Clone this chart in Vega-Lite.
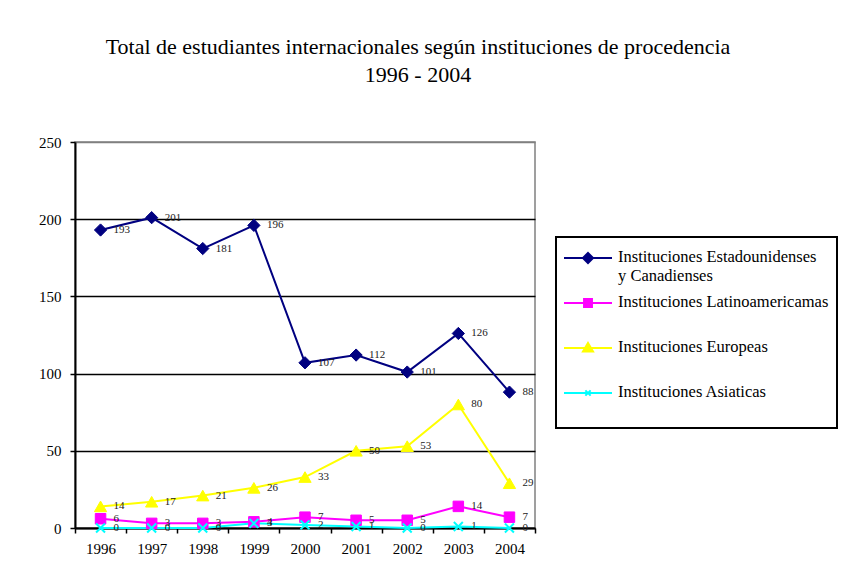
{
  "$schema": "https://vega.github.io/schema/vega-lite/v6.json",
  "width": 460,
  "height": 386,
  "autosize": {"type": "none"},
  "padding": {"left": 75, "top": 142, "right": 306, "bottom": 53},
  "background": "white",
  "config": {
    "view": {"stroke": "#808080", "strokeWidth": 1.5},
    "font": "Liberation Serif"
  },
  "title": {
    "text": ["Total de estudiantes internacionales según instituciones de procedencia", "1996 - 2004"],
    "font": "Liberation Serif",
    "fontSize": 22,
    "fontWeight": "normal",
    "color": "black",
    "lineHeight": 28,
    "anchor": "middle",
    "dx": 113,
    "offset": 48
  },
  "data": {
    "values": [
      {"year": "1996", "series": "Instituciones Estadounidenses y Canadienses", "value": 193},
      {"year": "1997", "series": "Instituciones Estadounidenses y Canadienses", "value": 201},
      {"year": "1998", "series": "Instituciones Estadounidenses y Canadienses", "value": 181},
      {"year": "1999", "series": "Instituciones Estadounidenses y Canadienses", "value": 196},
      {"year": "2000", "series": "Instituciones Estadounidenses y Canadienses", "value": 107},
      {"year": "2001", "series": "Instituciones Estadounidenses y Canadienses", "value": 112},
      {"year": "2002", "series": "Instituciones Estadounidenses y Canadienses", "value": 101},
      {"year": "2003", "series": "Instituciones Estadounidenses y Canadienses", "value": 126},
      {"year": "2004", "series": "Instituciones Estadounidenses y Canadienses", "value": 88},
      {"year": "1996", "series": "Instituciones Latinoamericamas", "value": 6},
      {"year": "1997", "series": "Instituciones Latinoamericamas", "value": 3},
      {"year": "1998", "series": "Instituciones Latinoamericamas", "value": 3},
      {"year": "1999", "series": "Instituciones Latinoamericamas", "value": 4},
      {"year": "2000", "series": "Instituciones Latinoamericamas", "value": 7},
      {"year": "2001", "series": "Instituciones Latinoamericamas", "value": 5},
      {"year": "2002", "series": "Instituciones Latinoamericamas", "value": 5},
      {"year": "2003", "series": "Instituciones Latinoamericamas", "value": 14},
      {"year": "2004", "series": "Instituciones Latinoamericamas", "value": 7},
      {"year": "1996", "series": "Instituciones Europeas", "value": 14},
      {"year": "1997", "series": "Instituciones Europeas", "value": 17},
      {"year": "1998", "series": "Instituciones Europeas", "value": 21},
      {"year": "1999", "series": "Instituciones Europeas", "value": 26},
      {"year": "2000", "series": "Instituciones Europeas", "value": 33},
      {"year": "2001", "series": "Instituciones Europeas", "value": 50},
      {"year": "2002", "series": "Instituciones Europeas", "value": 53},
      {"year": "2003", "series": "Instituciones Europeas", "value": 80},
      {"year": "2004", "series": "Instituciones Europeas", "value": 29},
      {"year": "1996", "series": "Instituciones Asiaticas", "value": 0},
      {"year": "1997", "series": "Instituciones Asiaticas", "value": 0},
      {"year": "1998", "series": "Instituciones Asiaticas", "value": 0},
      {"year": "1999", "series": "Instituciones Asiaticas", "value": 3},
      {"year": "2000", "series": "Instituciones Asiaticas", "value": 2},
      {"year": "2001", "series": "Instituciones Asiaticas", "value": 1},
      {"year": "2002", "series": "Instituciones Asiaticas", "value": 0},
      {"year": "2003", "series": "Instituciones Asiaticas", "value": 1},
      {"year": "2004", "series": "Instituciones Asiaticas", "value": 0}
    ]
  },
  "encoding": {
    "x": {
      "field": "year",
      "type": "ordinal",
      "scale": {"type": "band", "paddingInner": 0, "paddingOuter": 0},
      "axis": {
        "title": null,
        "labelAngle": 0,
        "tickBand": "extent",
        "grid": false,
        "domainColor": "black",
        "domainWidth": 2,
        "tickColor": "black",
        "tickWidth": 1.5,
        "tickSize": 5,
        "labelPadding": 8,
        "labelFont": "Liberation Serif",
        "labelFontSize": 15,
        "labelColor": "black"
      }
    },
    "y": {
      "field": "value",
      "type": "quantitative",
      "scale": {"domain": [0, 250]},
      "axis": {
        "title": null,
        "values": [0, 50, 100, 150, 200, 250],
        "grid": true,
        "gridColor": {"condition": {"test": "datum.value === 250", "value": "#808080"}, "value": "black"},
        "gridWidth": 1.5,
        "domainColor": "black",
        "domainWidth": 2,
        "tickColor": "black",
        "tickWidth": 1.5,
        "tickSize": 5,
        "labelPadding": 9,
        "labelFont": "Liberation Serif",
        "labelFontSize": 15,
        "labelColor": "black"
      }
    }
  },
  "layer": [
    {
      "mark": {"type": "line", "strokeWidth": 2},
      "encoding": {
        "color": {
          "field": "series",
          "type": "nominal",
          "scale": {
            "domain": ["Instituciones Estadounidenses y Canadienses", "Instituciones Latinoamericamas", "Instituciones Europeas", "Instituciones Asiaticas"],
            "range": ["#000080", "#FF00FF", "#FFFF00", "#00FFFF"]
          },
          "legend": {
            "title": null,
            "orient": "none",
            "legendX": 481,
            "legendY": 95,
            "strokeColor": "black",
            "fillColor": "white",
            "padding": 8,
            "symbolSize": 576,
            "symbolOffset": 11,
            "symbolStrokeWidth": 2,
            "labelFont": "Liberation Serif",
            "labelFontSize": 16.5,
            "labelColor": "black",
            "labelLimit": 400,
            "rowPadding": 5,
            "labelOffset": 17,
            "labelBaseline": "top",
            "labelExpr": "datum.label === 'Instituciones Estadounidenses y Canadienses' ? ['Instituciones Estadounidenses', 'y Canadienses'] : [datum.label, '']",
            "encode": {
              "legend": {
                "update": {
                  "strokeWidth": {"value": 2}
                }
              },
              "symbols": {
                "update": {
                  "size": {"value": 576},
                  "shape": {"signal": "datum.value === 'Instituciones Estadounidenses y Canadienses' ? 'M-2,0H2M0,-0.42L0.42,0L0,0.42L-0.42,0Z' : datum.value === 'Instituciones Latinoamericamas' ? 'M-2,0H2M-0.33,-0.33H0.33V0.33H-0.33Z' : datum.value === 'Instituciones Europeas' ? 'M-2,0H2M0,-0.42L0.42,0.3H-0.42Z' : 'M-2,0H2M-0.22,-0.22L0.22,0.22M-0.22,0.22L0.22,-0.22'"},
                  "fill": {"signal": "scale('color', datum.value)"},
                  "stroke": {"signal": "scale('color', datum.value)"}
                }
              },
              "labels": {
                "update": {
                  "dy": {"value": -9},
                  "lineHeight": {"value": 19}
                }
              }
            }
          }
        }
      }
    },
    {
      "transform": [{"filter": "datum.series === 'Instituciones Estadounidenses y Canadienses'"}],
      "mark": {"type": "point", "shape": "diamond", "filled": true, "color": "#000080", "stroke": "#000080", "strokeWidth": 1, "opacity": 1, "size": 150},
      "encoding": {}
    },
    {
      "transform": [{"filter": "datum.series === 'Instituciones Latinoamericamas'"}],
      "mark": {"type": "point", "shape": "square", "filled": true, "color": "#FF00FF", "stroke": "#FF00FF", "strokeWidth": 1, "opacity": 1, "size": 110},
      "encoding": {}
    },
    {
      "transform": [{"filter": "datum.series === 'Instituciones Europeas'"}],
      "mark": {"type": "point", "shape": "triangle-up", "filled": true, "color": "#FFFF00", "stroke": "#FFFF00", "strokeWidth": 1, "opacity": 1, "size": 150},
      "encoding": {}
    },
    {
      "transform": [{"filter": "datum.series === 'Instituciones Asiaticas'"}],
      "mark": {"type": "point", "shape": "M-1,-1L1,1M-1,1L1,-1", "filled": false, "color": "#00FFFF", "stroke": "#00FFFF", "strokeWidth": 2, "opacity": 1, "size": 80},
      "encoding": {}
    },
    {
      "mark": {"type": "text", "align": "left", "baseline": "middle", "dx": 13, "fontSize": 11, "font": "Liberation Serif", "color": "#222222"},
      "encoding": {
        "text": {"field": "value", "type": "quantitative"}
      }
    }
  ]
}
